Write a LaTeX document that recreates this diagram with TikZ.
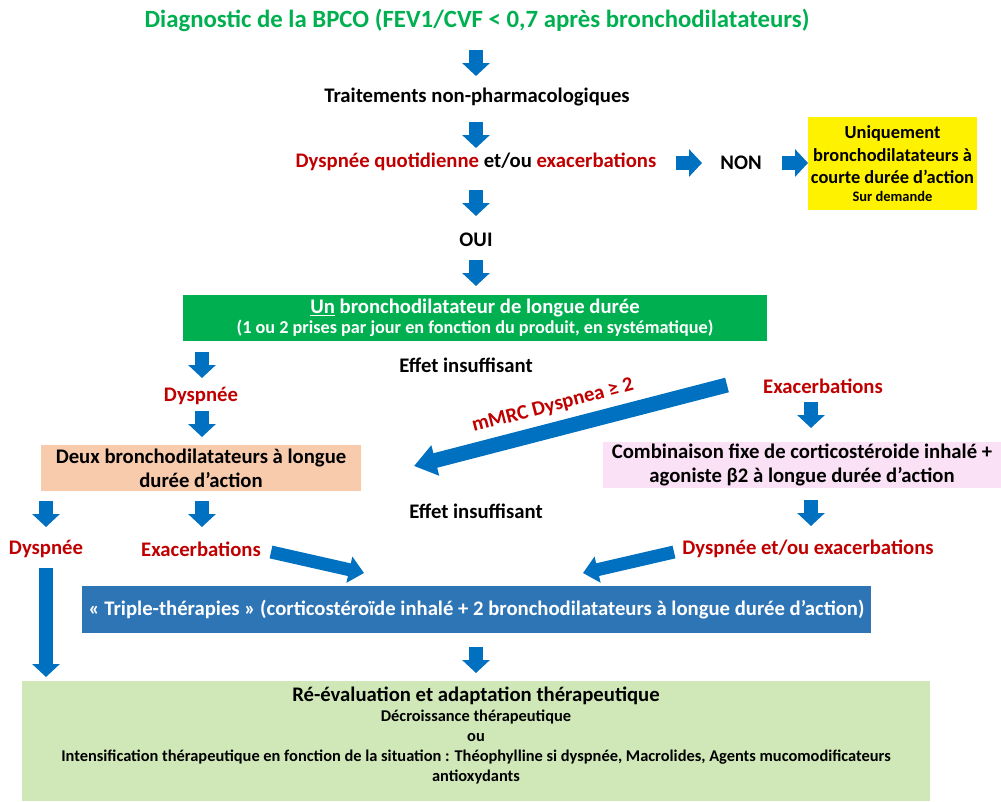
\documentclass[tikz,border=0pt]{standalone}
\usepackage{fontspec}
\setmainfont{Carlito}
\usetikzlibrary{arrows.meta}
\definecolor{tgreen}{HTML}{00B050}
\definecolor{tred}{HTML}{C00000}
\definecolor{ablue}{HTML}{0070C0}
\definecolor{tripleblue}{HTML}{2E75B6}
\definecolor{peach}{HTML}{F8CBAD}
\definecolor{lpink}{HTML}{FBE1F5}
\definecolor{lgreen}{HTML}{D0E8B8}
\newcommand{\fsz}[2]{\fontsize{#1}{#2}\selectfont}
\tikzset{
  lbl/.style={inner sep=0pt, align=center, font=\bfseries\fsz{20.7}{24}},
  redlbl/.style={lbl, text=tred},
  boxnode/.style={inner sep=0pt, align=center, font=\bfseries\fsz{20.7}{24}},
  barrow/.style={draw=ablue, line width=14pt, -{Triangle[width=27pt,length=13pt]}},
  bigarrow/.style={draw=ablue, line width=15pt, -{Triangle[width=30pt,length=22pt]}},
  midarrow/.style={draw=ablue, line width=13pt, -{Triangle[width=26pt,length=15pt]}},
}
\begin{document}
\begin{tikzpicture}[x=1pt,y=-1pt]
\useasboundingbox (0,0) rectangle (1001,801);
% texts
\node[lbl, text=tgreen, font=\bfseries\fsz{24.8}{28}] (title) at (477,20) {Diagnostic de la BPCO (FEV1/CVF < 0,7 après bronchodilatateurs)};
\node[lbl] (trait) at (477,97) {Traitements non-pharmacologiques};
\node[lbl] (dq) at (476,162) {\textcolor{tred}{Dyspnée quotidienne} et/ou \textcolor{tred}{exacerbations}};
\node[lbl] (non) at (741,163) {NON};
\node[boxnode, fill=yellow, minimum width=169pt, minimum height=93pt, font=\bfseries\fsz{18.4}{22.5}] (yel) at (892.5,163.5) {Uniquement\\bronchodilatateurs à\\courte durée d’action\\[-5pt]{\fsz{14.5}{17}Sur demande}};
\node[lbl] (oui) at (476,240) {OUI};
\node[boxnode, fill=tgreen, text=white, minimum width=584pt, minimum height=46pt, font=\bfseries\fsz{20.7}{21}] (lg) at (475,318) {\underline{Un} bronchodilatateur de longue durée\\[-1pt]{\fsz{18.2}{21}(1 ou 2 prises par jour en fonction du produit, en systématique)}};
\node[lbl] (eff1) at (466,365) {Effet insuffisant};
\node[redlbl] (dysp1) at (201,396) {Dyspnée};
\node[redlbl] (exa1) at (823,386) {Exacerbations};
\node[boxnode, fill=peach, minimum width=320pt, minimum height=46pt] (deux) at (201,468) {Deux bronchodilatateurs à longue\\durée d’action};
\node[boxnode, fill=lpink, minimum width=398pt, minimum height=46pt] (comb) at (802,465) {Combinaison fixe de corticostéroide inhalé +\\agoniste β2 à longue durée d’action};
\node[lbl] (eff2) at (476,511) {Effet insuffisant};
\node[redlbl] (dysp2) at (46,549) {Dyspnée};
\node[redlbl] (exa2) at (201,549) {Exacerbations};
\node[redlbl] (de) at (808,549) {Dyspnée et/ou exacerbations};
\node[boxnode, fill=tripleblue, text=white, minimum width=789pt, minimum height=47pt] (triple) at (476.5,609.5) {« Triple-thérapies » (corticostéroïde inhalé + 2 bronchodilatateurs à longue durée d’action)};
\node[fill=lgreen, inner sep=0pt, minimum width=908pt, minimum height=120pt] (reevbox) at (476,741) {};
\node[inner sep=0pt, align=center, anchor=north, font=\bfseries\fsz{16.4}{20}] (reev) at (476,687) {{\fsz{20.7}{22}Ré-évaluation et adaptation thérapeutique}\\Décroissance thérapeutique\\ou\\Intensification thérapeutique en fonction de la situation : Théophylline si dyspnée, Macrolides, Agents mucomodificateurs\\antioxydants};
\node[redlbl, rotate=14.6] (mmrc) at (553,406) {mMRC Dyspnea ≥ 2};
% arrow coordinates
\coordinate (a1s) at (476,50);  \coordinate (a1e) at (476,76);
\coordinate (a2s) at (476,122); \coordinate (a2e) at (476,148);
\coordinate (a3s) at (676,163); \coordinate (a3e) at (702,163);
\coordinate (a4s) at (782,163); \coordinate (a4e) at (808,163);
\coordinate (a5s) at (476,190); \coordinate (a5e) at (476,216);
\coordinate (a6s) at (476,260); \coordinate (a6e) at (476,286);
\coordinate (a7s) at (202,352); \coordinate (a7e) at (202,378);
\coordinate (a8s) at (202,411); \coordinate (a8e) at (202,437);
\coordinate (a9s) at (811,402); \coordinate (a9e) at (811,428);
\coordinate (bds) at (727,385); \coordinate (bde) at (414,466);
\coordinate (a10s) at (46,501); \coordinate (a10e) at (46,527);
\coordinate (a11s) at (202,501); \coordinate (a11e) at (202,527);
\coordinate (a12s) at (811,500); \coordinate (a12e) at (811,526);
\coordinate (lgs) at (46,568); \coordinate (lge) at (46,677);
\coordinate (d2s) at (271,552); \coordinate (d2e) at (364,573);
\coordinate (d3s) at (674,552); \coordinate (d3e) at (583,573);
\coordinate (a13s) at (476,647); \coordinate (a13e) at (476,673);
\foreach \s/\e in {a1s/a1e,a2s/a2e,a3s/a3e,a4s/a4e,a5s/a5e,a6s/a6e,a7s/a7e,a8s/a8e,a9s/a9e,a10s/a10e,a11s/a11e,a12s/a12e,lgs/lge,a13s/a13e}
  \draw[barrow] (\s) -- (\e);
\draw[bigarrow] (bds) -- (bde);
\draw[midarrow] (d2s) -- (d2e);
\draw[midarrow] (d3s) -- (d3e);
\end{tikzpicture}
\end{document}
